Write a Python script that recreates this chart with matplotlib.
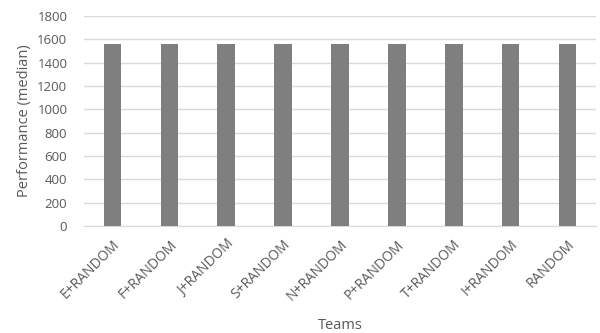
import matplotlib
matplotlib.use("Agg")
import matplotlib.pyplot as plt

teams = ["E+RANDOM", "F+RANDOM", "J+RANDOM", "S+RANDOM", "N+RANDOM",
         "P+RANDOM", "T+RANDOM", "I+RANDOM", "RANDOM"]
median_perf = [1563, 1563, 1563, 1563, 1563, 1563, 1563, 1563, 1563]
y_ticks = [0, 200, 400, 600, 800, 1000, 1200, 1400, 1600, 1800]

plt.rcParams['font.family'] = ['Open Sans', 'DejaVu Sans']
text_color = "#595959"

fig = plt.figure(figsize=(6.0, 3.33), dpi=100)
ax = fig.add_axes([84 / 600, 1 - 226 / 333, (596 - 84) / 600, (226 - 16) / 333])

x = range(len(teams))
ax.bar(x, median_perf, width=0.31, color="#7f7f7f", zorder=3)

ax.set_xlim(-0.5, len(teams) - 0.5)
ax.set_ylim(0, 1800)
ax.set_yticks(y_ticks)
ax.set_yticklabels([str(v) for v in y_ticks], fontsize=9.5, color=text_color)
ax.set_xticks(list(x))
ax.set_xticklabels(teams, rotation=45, ha="right", rotation_mode="anchor",
                   fontsize=10, color=text_color)
ax.tick_params(axis="both", length=0)
ax.tick_params(axis="y", pad=12)
ax.tick_params(axis="x", pad=8)

ax.grid(axis="y", color="#d9d9d9", linewidth=1.0, zorder=0)
for side in ["top", "right", "left"]:
    ax.spines[side].set_visible(False)
ax.spines["bottom"].set_color("#d9d9d9")

ax.set_ylabel("Performance (median)", fontsize=10.5, color=text_color, labelpad=4)
ax.set_xlabel("Teams", fontsize=10.5, color=text_color, labelpad=10)

fig.savefig("out.png", dpi=100, facecolor="white")
